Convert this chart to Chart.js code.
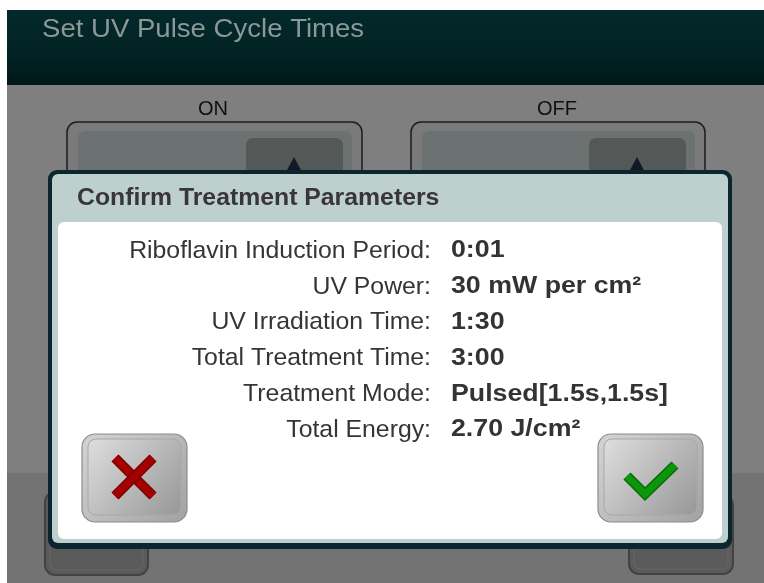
<!DOCTYPE html>
<html>
<head>
<meta charset="utf-8">
<script src="https://cdn.jsdelivr.net/npm/chart.js@4/dist/chart.umd.min.js"></script>
<style>
html,body{margin:0;padding:0;background:#fff;}
#wrap{width:764px;height:583px;position:relative;}
</style>
</head>
<body>
<div id="wrap"><canvas id="c" width="764" height="583"></canvas></div>
<script>
// ---- content ----
const screenTitle = 'Set UV Pulse Cycle Times';
const columnLabels = ['ON', 'OFF'];
const dialogTitle = 'Confirm Treatment Parameters';
const paramLabels = [
  'Riboflavin Induction Period:',
  'UV Power:',
  'UV Irradiation Time:',
  'Total Treatment Time:',
  'Treatment Mode:',
  'Total Energy:'
];
const paramValues = [
  '0:01',
  '30 mW per cm²',
  '1:30',
  '3:00',
  'Pulsed[1.5s,1.5s]',
  '2.70 J/cm²'
];

const FONT = '"Liberation Sans", Arial, Helvetica, sans-serif';

function rr(c, x, y, w, h, r) {
  c.beginPath();
  c.moveTo(x + r, y);
  c.lineTo(x + w - r, y);
  c.arcTo(x + w, y, x + w, y + r, r);
  c.lineTo(x + w, y + h - r);
  c.arcTo(x + w, y + h, x + w - r, y + h, r);
  c.lineTo(x + r, y + h);
  c.arcTo(x, y + h, x, y + h - r, r);
  c.lineTo(x, y + r);
  c.arcTo(x, y, x + r, y, r);
  c.closePath();
}

function stretchText(c, txt, x, y, sx) {
  c.save();
  c.translate(x, y);
  c.scale(sx, 1);
  c.fillText(txt, 0, 0);
  c.restore();
}

function bgButton(c, x, y, w, h) {
  rr(c, x, y, w, h, 10);
  c.fillStyle = '#5b5b5b';
  c.fill();
  c.lineWidth = 2;
  c.strokeStyle = '#434343';
  c.stroke();
  rr(c, x + 5, y + 4, w - 10, h - 9, 7);
  c.lineWidth = 1;
  c.strokeStyle = '#686868';
  c.stroke();
}

function spinBox(c, x, w, arrowX) {
  rr(c, x, 122, w, 120, 10);
  c.fillStyle = '#7a7a7a';
  c.fill();
  c.lineWidth = 1.5;
  c.strokeStyle = '#1c1c1c';
  c.stroke();
  rr(c, x + 11, 131, w - 21, 100, 7);
  c.fillStyle = '#6c7171';
  c.fill();
  rr(c, arrowX, 138, 97, 80, 7);
  c.fillStyle = '#545857';
  c.fill();
  const cx = arrowX + 48;
  c.beginPath();
  c.moveTo(cx, 157);
  c.lineTo(cx + 9, 174);
  c.lineTo(cx - 9, 174);
  c.closePath();
  c.fillStyle = '#141826';
  c.fill();
}

function dlgButton(c, x, y, w, h) {
  rr(c, x, y, w, h, 13);
  let g = c.createLinearGradient(x, y, x + w, y + h);
  g.addColorStop(0, '#d4d4d4');
  g.addColorStop(1, '#a2a2a2');
  c.fillStyle = g;
  c.fill();
  c.lineWidth = 1.2;
  c.strokeStyle = '#8c8c8c';
  c.stroke();
  rr(c, x + 6, y + 5, w - 12, h - 12, 8);
  g = c.createLinearGradient(x + 6, y + 5, x + w - 6, y + h - 7);
  g.addColorStop(0, '#dedede');
  g.addColorStop(1, '#979797');
  c.fillStyle = g;
  c.fill();
  c.lineWidth = 1;
  c.strokeStyle = '#a8a8a8';
  c.stroke();
}

const uiPlugin = {
  id: 'ui',
  beforeDraw(chart) {
    const c = chart.ctx;
    c.save();
    c.fillStyle = '#ffffff';
    c.fillRect(0, 0, 764, 583);
    c.fillStyle = '#7f7f7f';
    c.fillRect(7, 85, 757, 498);
    c.fillStyle = '#737373';
    c.fillRect(7, 473, 757, 110);
    let g = c.createLinearGradient(0, 10, 0, 85);
    g.addColorStop(0, '#03292a');
    g.addColorStop(0.55, '#022324');
    g.addColorStop(1, '#001819');
    c.fillStyle = g;
    c.fillRect(7, 10, 757, 75);
    c.fillStyle = '#8b9897';
    c.font = '26.5px ' + FONT;
    c.textBaseline = 'middle';
    c.textAlign = 'left';
    stretchText(c, screenTitle, 42, 30, 1.04);
    c.fillStyle = '#111111';
    c.font = '20px ' + FONT;
    c.textAlign = 'center';
    c.fillText(columnLabels[0], 213, 109);
    c.fillText(columnLabels[1], 557, 109);
    spinBox(c, 67, 295, 246);
    spinBox(c, 411, 294, 589);
    bgButton(c, 45, 492, 103, 83);
    bgButton(c, 629, 495, 104, 79);
    rr(c, 48, 170, 684, 379, 9);
    c.fillStyle = '#0c2630';
    c.fill();
    rr(c, 52, 174, 676, 369, 6);
    c.fillStyle = '#bdd0ce';
    c.fill();
    rr(c, 58, 222, 664, 317, 6);
    c.fillStyle = '#ffffff';
    c.fill();
    c.fillStyle = '#3a3637';
    c.font = 'bold 23.5px ' + FONT;
    c.textAlign = 'left';
    c.textBaseline = 'middle';
    stretchText(c, dialogTitle, 77, 199, 1.055);
    dlgButton(c, 82, 434, 105, 88);
    dlgButton(c, 598, 434, 105, 88);
    c.lineCap = 'butt';
    const xc = 134, yc = 477, d = 19;
    [[xc - d, yc - d, xc + d, yc + d], [xc + d, yc - d, xc - d, yc + d]].forEach(s => {
      c.beginPath(); c.moveTo(s[0], s[1]); c.lineTo(s[2], s[3]);
      c.lineWidth = 10; c.strokeStyle = '#740000'; c.stroke();
      c.lineWidth = 7.5; c.strokeStyle = '#a40000'; c.stroke();
    });
    c.lineJoin = 'miter';
    c.beginPath();
    c.moveTo(627, 476);
    c.lineTo(645, 494);
    c.lineTo(675, 465);
    c.lineWidth = 10; c.strokeStyle = '#076a07'; c.stroke();
    c.lineWidth = 7; c.strokeStyle = '#0b960b'; c.stroke();
    c.restore();
  },
  afterDraw(chart) {
    const c = chart.ctx;
    const ys = chart.scales.y;
    c.save();
    c.fillStyle = '#333333';
    c.font = 'bold 23.5px ' + FONT;
    c.textAlign = 'left';
    c.textBaseline = 'middle';
    paramValues.forEach((v, i) => {
      stretchText(c, v, 451, ys.getPixelForValue(i), 1.138);
    });
    c.restore();
  }
};

new Chart(document.getElementById('c'), {
  type: 'bar',
  data: { labels: paramLabels, datasets: [{ data: [], backgroundColor: 'rgba(0,0,0,0)' }] },
  options: {
    responsive: false,
    animation: false,
    events: [],
    indexAxis: 'y',
    layout: { padding: { top: 251, bottom: 153, left: 0, right: 0 } },
    plugins: { legend: { display: false }, tooltip: { enabled: false }, title: { display: false } },
    scales: {
      x: { display: false },
      y: {
        type: 'category',
        labels: paramLabels,
        position: 'left',
        offset: false,
        grid: { display: false, drawTicks: false },
        border: { display: false },
        ticks: {
          autoSkip: false,
          padding: 1,
          color: '#353535',
          font: { family: FONT, size: 24.8 }
        },
        afterFit(s) { s.width = 432; }
      }
    }
  },
  plugins: [uiPlugin]
});
</script>
</body>
</html>
